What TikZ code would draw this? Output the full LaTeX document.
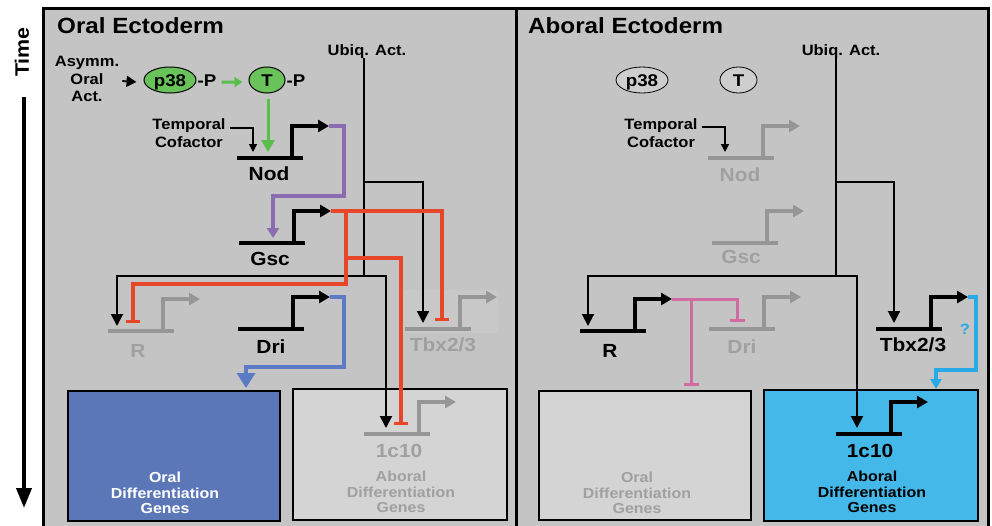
\documentclass[tikz,border=0pt]{standalone}
\usepackage{fontspec}
\setmainfont{Liberation Sans}[FakeStretch=1.1]
\usetikzlibrary{arrows.meta,shapes.geometric,calc}
\definecolor{bgc}{RGB}{196,196,196}
\definecolor{lightbox}{RGB}{212,212,212}
\definecolor{gg}{RGB}{150,150,150}
\definecolor{gt}{RGB}{160,160,160}
\definecolor{oralblue}{RGB}{91,119,184}
\definecolor{blueln}{RGB}{93,122,196}
\definecolor{redc}{RGB}{232,70,40}
\definecolor{purp}{RGB}{140,108,176}
\definecolor{grnln}{RGB}{90,190,75}
\definecolor{grnfill}{RGB}{106,194,90}
\definecolor{pinkc}{RGB}{208,108,160}
\definecolor{cyanln}{RGB}{40,170,230}
\definecolor{cyanbox}{RGB}{68,185,233}
\definecolor{ellgray}{RGB}{206,206,206}
\newcommand\fTitle{\fontsize{22}{26}\selectfont\bfseries}
\newcommand\fGene{\fontsize{19}{22}\selectfont\bfseries}
\newcommand\fUbiq{\fontsize{15}{18}\selectfont\bfseries}
\newcommand\fSmall{\fontsize{15}{17.5}\selectfont\bfseries}
\newcommand\fBox{\fontsize{14.5}{15.5}\selectfont\bfseries}
\newcommand\fProt{\fontsize{17}{20}\selectfont\bfseries}
\newcommand\fTime{\fontsize{19.5}{22}\selectfont\bfseries}
\tikzset{
  every node/.style={inner sep=0pt},
  panel/.style={draw=black,line width=3pt,fill=bgc},
  genebox/.style={draw=black,line width=1.5pt},
  pics/gene/.style={code={
    \draw[line width=4pt,draw=#1] (-55,0) -- (11,0);
    \draw[line width=4.5pt,draw=#1,line join=miter,-{Triangle[length=11pt,width=12pt]}] (0,0) -- (0,-32) -- (37,-32);
    \coordinate (-tip) at (37,-32);
  }},
  glabel/.style={anchor=base,font=\fGene},
  act/.style={draw=black,line width=2pt,line join=miter,-{Triangle[length=12pt,width=12pt]}},
  actsmall/.style={draw=black,line width=1.5pt,line join=miter,-{Triangle[length=8pt,width=8pt]}},
  redinh/.style={draw=redc,line width=3.5pt,line join=miter,-{Bar[width=14pt]}},
  pinkinh/.style={draw=pinkc,line width=3pt,line join=miter,-{Bar[width=15pt]}},
  purparr/.style={draw=purp,line width=3.5pt,line join=miter,-{Triangle[length=10pt,width=12pt]}},
  bluearr/.style={draw=blueln,line width=3.5pt,line join=miter,-{Triangle[length=15pt,width=18pt]}},
  cyanarr/.style={draw=cyanln,line width=3.5pt,line join=miter,-{Triangle[length=10pt,width=11pt]}},
  grnarr/.style={draw=grnln,line width=3pt,-{Triangle[length=12pt,width=13pt]}},
  grnarrs/.style={draw=grnln,line width=3pt,-{Triangle[length=8pt,width=10pt]}},
  boxtext/.style={font=\fBox,align=center},
}
\begin{document}
\begin{tikzpicture}[x=1pt,y=-1pt]
\useasboundingbox (0,0) rectangle (992,525);
\fill[white] (0,0) rectangle (992,525);
\clip (0,0) rectangle (992,525);

% panels
\draw[panel] (43,8) rectangle (516,545);
\draw[panel] (516,8) rectangle (988,545);
\fill[fill={rgb,255:red,200;green,200;blue,200}] (403,290) rectangle (498,333);

% time axis
\node[rotate=90,font=\fTime] (time) at (22,52) {Time};
\coordinate (tstart) at (24,97);
\coordinate (tend) at (24,508);
\draw[line width=4pt,-{Triangle[length=20pt,width=15pt]}] (tstart) -- (tend);

% titles
\node[anchor=base west,font=\fTitle] (titleL) at (57,33) {Oral Ectoderm};
\node[anchor=base west,font=\fTitle] (titleR) at (528,33) {Aboral Ectoderm};

% ================= LEFT PANEL =================
% bottom boxes left
\node[genebox,fill=oralblue,minimum width=212pt,minimum height=130pt] (oralBoxL) at (174,456) {};
\node[genebox,fill=lightbox,minimum width=214pt,minimum height=131pt] (aborBoxL) at (400,454.5) {};
\node[boxtext,text=white] (oralTxtL) at (165,493) {Oral\\Differentiation\\Genes};
\node[boxtext,text=gt] (aborTxtL) at (401,492) {Aboral\\Differentiation\\Genes};

\node[font=\fSmall,align=center] (asymL) at (87,79) {Asymm.\\Oral\\Act.};
\node[draw=black,line width=1pt,fill=grnfill,ellipse,minimum width=52pt,minimum height=26pt] (p38L) at (170,80) {};
\node[anchor=base,font=\fProt] (p38Ltxt) at (170,86) {p38};
\node[anchor=base,font=\fProt] (pPL) at (207,86) {-P};
\node[draw=black,line width=1pt,fill=grnfill,ellipse,minimum width=36pt,minimum height=26pt] (TL) at (267,80) {};
\node[anchor=base,font=\fProt] (TLtxt) at (267,86) {T};
\node[anchor=base,font=\fProt] (TPL) at (296,86) {-P};
\draw[act,line width=1.8pt,-{Triangle[length=10pt,width=11pt]}] ($(asymL.east)+(3,2)$) -- ($(p38L.west)+(-7,2)$);
\draw[grnarrs] ($(pPL.east)+(5,2)$) -- ($(TL.west)+(-6,2)$);
\coordinate (nodLg) at (268,152);
\draw[grnarr] ($(TL.south)+(1,5)$) -- (nodLg);

\node[font=\fSmall,align=center] (tempL) at (189,133) {Temporal\\Cofactor};
\coordinate (nodLt) at (253,152);
\draw[actsmall] ($(tempL.east)+(4,-5)$) -| (nodLt);

\pic (nodL) at (292,158) {gene=black};
\node[glabel] (nodLlab) at (269,180) {Nod};
\pic (gscL) at (294,243) {gene=black};
\node[glabel] (gscLlab) at (270,265) {Gsc};
\pic (rL) at (163,331) {gene=gg};
\node[glabel,text=gt] (rLlab) at (138,357) {R};
\pic (driL) at (293,329) {gene=black};
\node[glabel] (driLlab) at (271,353) {Dri};
\pic (tbxL) at (460,329) {gene=gg};
\node[glabel,text=gt] (tbxLlab) at (443,351) {Tbx2/3};
\pic (cL) at (419,434) {gene=gg};
\node[glabel,text=gt] (cLlab) at (399,457) {1c10};

% purple Nod -> Gsc
\coordinate (pu1) at (344,196);
\coordinate (gscLa) at (273,238);
\draw[purparr] (nodL-tip) -| (pu1) -| (gscLa);

% ubiquitous activator (left)
\node[anchor=base,font=\fUbiq] (ubL) at (367,55) {Ubiq. Act.};
\coordinate (ubLj) at (364,276);
\coordinate (ubLb) at (364,182);
\coordinate (rLa) at (117,326);
\coordinate (cLa) at (386,428);
\coordinate (tbxLa) at (423,323);
\draw[draw=black,line width=2pt] (ubL.south -| ubLj) -- (ubLj);
\draw[act] (ubLj) -| (rLa);
\draw[act] (ubLj) -| (cLa);
\draw[act] (ubLb) -| (tbxLa);

% red Gsc repression
\coordinate (rj1) at (346,211);
\coordinate (rj2) at (346,258);
\coordinate (rj3) at (346,284);
\coordinate (tbxLi) at (442,321);
\coordinate (rLi) at (133,323);
\coordinate (cLi) at (401,425);
\draw[redinh] (gscL-tip) -| (tbxLi);
\draw[redinh] (rj1) -- (rj3) -| (rLi);
\draw[redinh] (rj2) -| (cLi);

% blue Dri -> oral genes
\coordinate (bl1) at (344,367);
\coordinate (oralLa) at (246,388);
\draw[bluearr] (driL-tip) -| (bl1) -| (oralLa);

% ================= RIGHT PANEL =================
% bottom boxes right
\node[genebox,fill=lightbox,minimum width=212pt,minimum height=129pt] (oralBoxR) at (645,455.5) {};
\node[genebox,fill=cyanbox,minimum width=214pt,minimum height=131pt] (aborBoxR) at (871,455.5) {};
\node[boxtext,text=gt] (oralTxtR) at (637,493) {Oral\\Differentiation\\Genes};
\node[boxtext,text=black] (aborTxtR) at (872,492) {Aboral\\Differentiation\\Genes};

\node[draw=black,line width=0.8pt,fill=ellgray,ellipse,minimum width=52pt,minimum height=26pt] (p38R) at (642,80) {};
\node[anchor=base,font=\fProt] (p38Rtxt) at (642,86) {p38};
\node[draw=black,line width=0.8pt,fill=ellgray,ellipse,minimum width=37pt,minimum height=26pt] (TR) at (738.5,80) {};
\node[anchor=base,font=\fProt] (TRtxt) at (738.5,86) {T};

\node[font=\fSmall,align=center] (tempR) at (661,133) {Temporal\\Cofactor};
\coordinate (nodRt) at (725,152);
\draw[actsmall] ($(tempR.east)+(4,-6)$) -| (nodRt);

\pic (nodR) at (763,158) {gene=gg};
\node[glabel,text=gt] (nodRlab) at (740,181) {Nod};
\pic (gscR) at (767,243) {gene=gg};
\node[glabel,text=gt] (gscRlab) at (741,263) {Gsc};
\pic (rR) at (635,331) {gene=black};
\node[glabel] (rRlab) at (610,357) {R};
\pic (driR) at (764,329) {gene=gg};
\node[glabel,text=gt] (driRlab) at (742,353) {Dri};
\pic (tbxR) at (931,329) {gene=black};
\node[glabel] (tbxRlab) at (913,351) {Tbx2/3};
\pic (cR) at (891,434) {gene=black};
\node[glabel] (cRlab) at (870,457) {1c10};

% ubiquitous activator (right)
\node[anchor=base,font=\fUbiq] (ubR) at (841,55) {Ubiq. Act.};
\coordinate (ubRj) at (836,276);
\coordinate (ubRb) at (836,182);
\coordinate (rRa) at (588,326);
\coordinate (cRa) at (857,428);
\coordinate (tbxRa) at (894,323);
\draw[draw=black,line width=2pt] (ubR.south -| ubRj) -- (ubRj);
\draw[act] (ubRj) -| (rRa);
\draw[act] (ubRj) -| (cRa);
\draw[act] (ubRb) -| (tbxRa);

% pink R repression
\coordinate (pk1) at (691,299);
\coordinate (driRi) at (737,322);
\coordinate (oralRi) at (691,386);
\draw[pinkinh] (rR-tip) -| (driRi);
\draw[pinkinh] (pk1) -- (oralRi);

% cyan Tbx2/3 -> aboral genes
\coordinate (cy1) at (976,370);
\coordinate (aborRa) at (936,389);
\draw[cyanarr] (tbxR-tip) -| (cy1) -| (aborRa);
\node[font=\fSmall,text=cyanln] (qmark) at (965,329) {?};

\end{tikzpicture}
\end{document}
